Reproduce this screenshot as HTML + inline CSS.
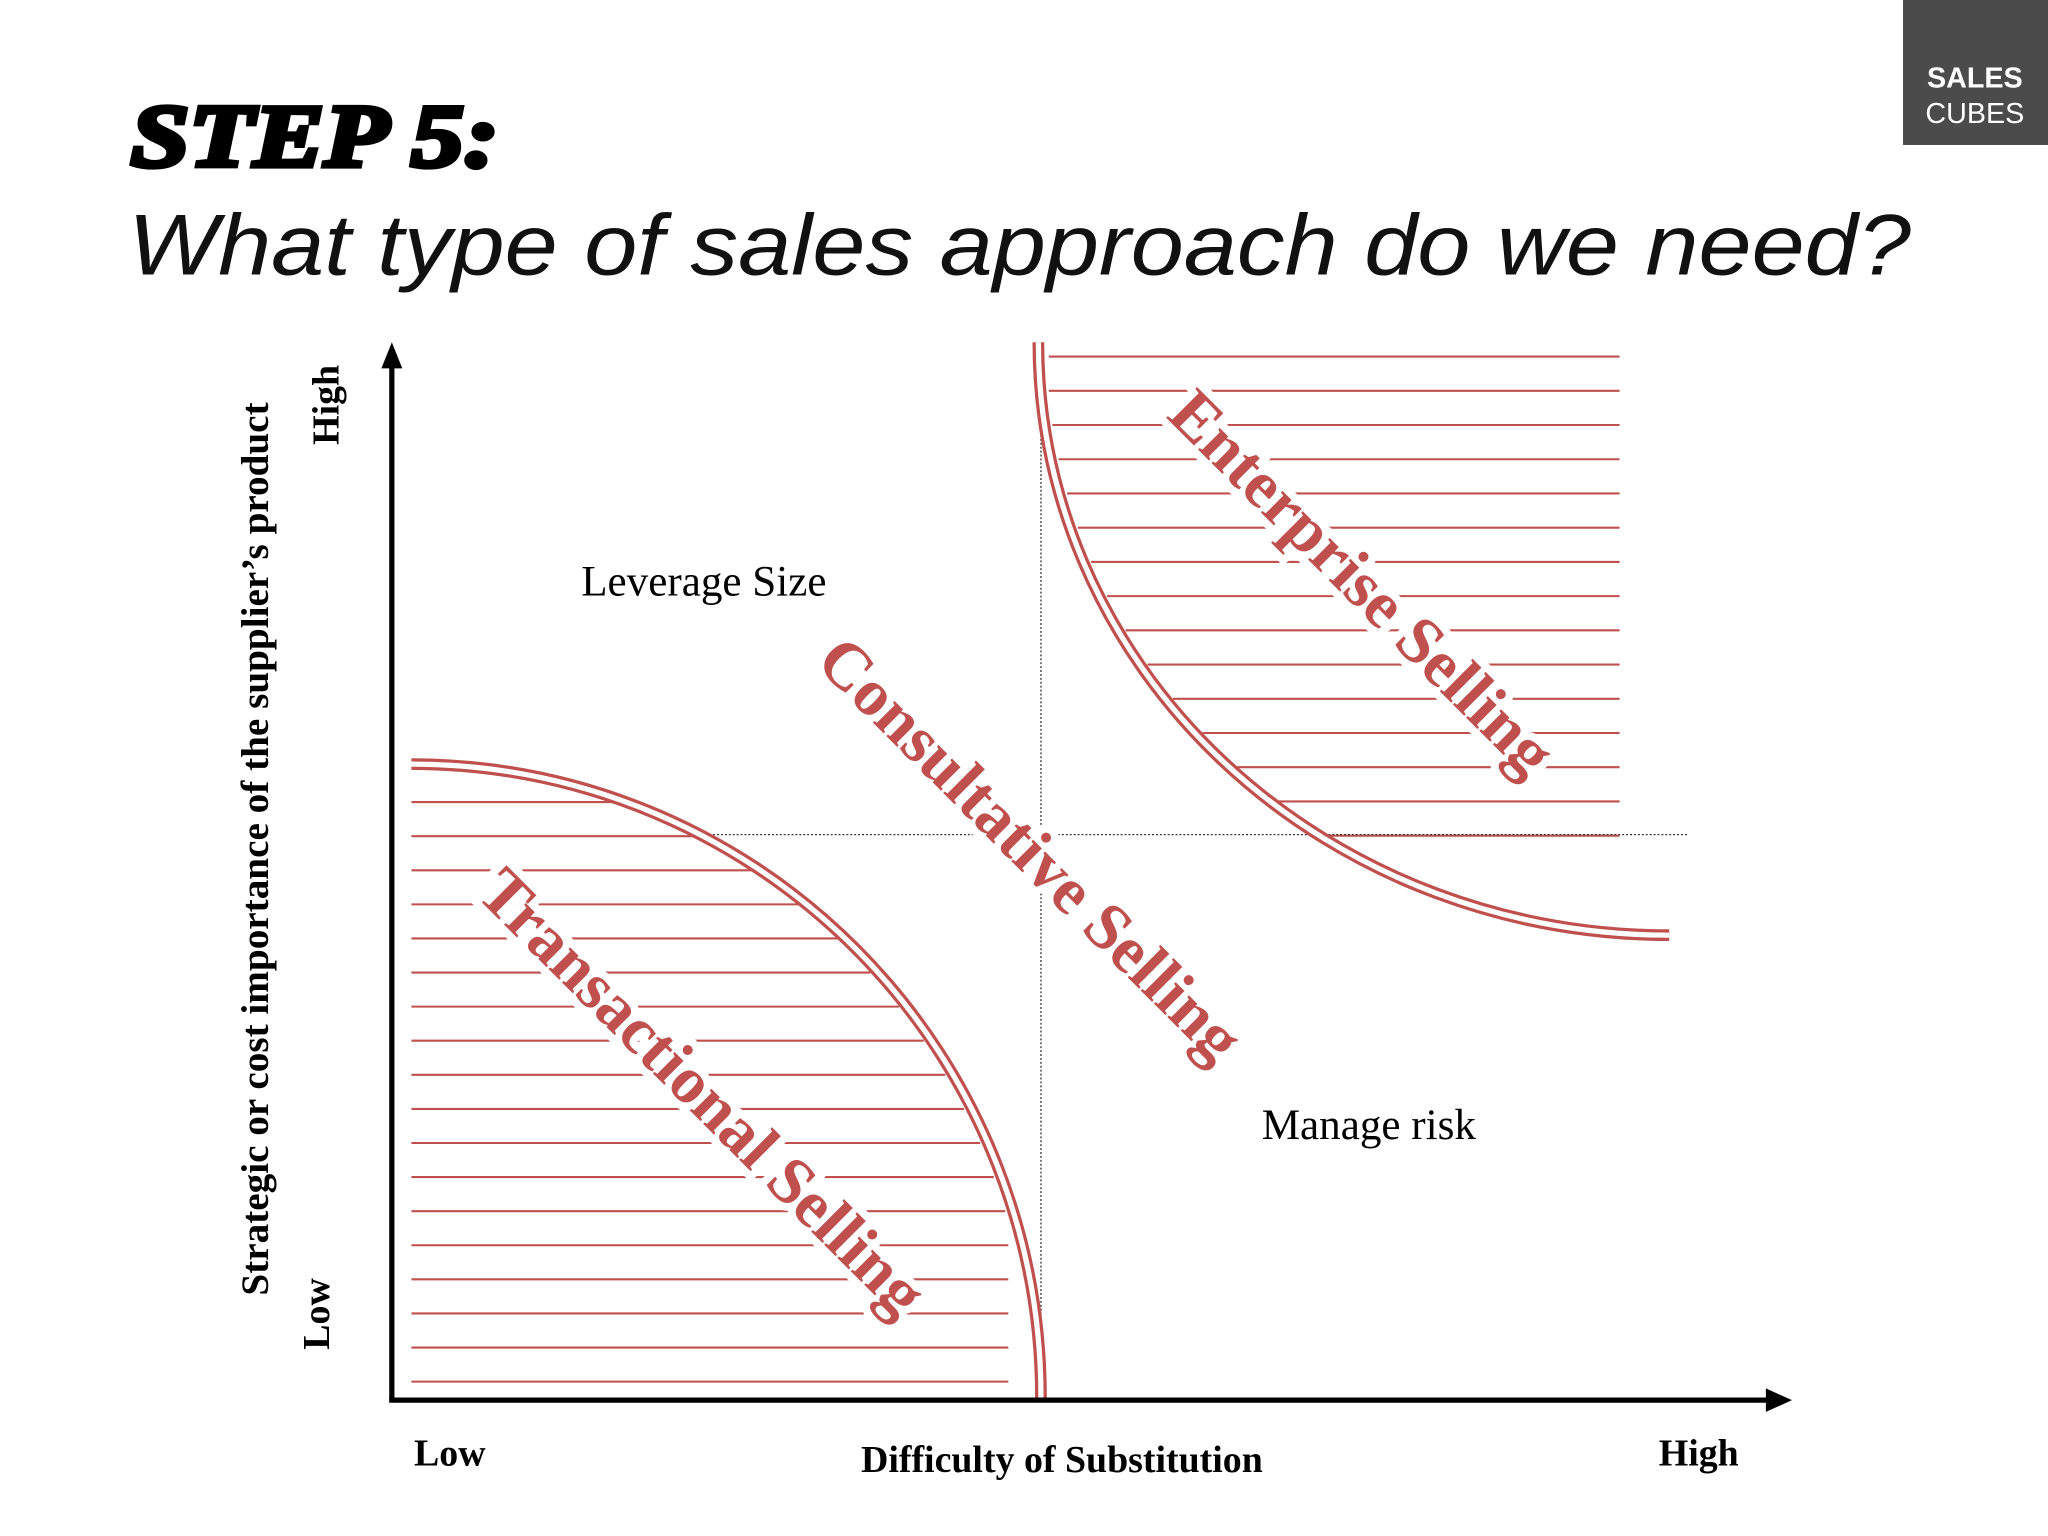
<!DOCTYPE html>
<html><head><meta charset="utf-8"><style>
html,body{margin:0;padding:0;background:#fff;width:2048px;height:1536px;overflow:hidden}
svg{display:block}
</style></head><body>
<svg id="c" width="2048" height="1536" viewBox="0 0 1568 1176" xmlns="http://www.w3.org/2000/svg">
<rect width="1568" height="1176" fill="#fff"/>
<g>
<rect x="1457" y="0" width="111" height="111" fill="#4b4b4b"/>
<text x="1512" y="67" text-anchor="middle" font-family="Liberation Sans, sans-serif" font-weight="bold" font-size="22" fill="#fff">SALES</text>
<text x="1512" y="94" text-anchor="middle" font-family="Liberation Sans, sans-serif" font-size="22" fill="#fff">CUBES</text>
</g>
<text x="100" y="127" font-family="Liberation Serif, serif" font-weight="900" font-style="italic" font-size="68" fill="#000" stroke="#000" stroke-width="4" textLength="282" lengthAdjust="spacingAndGlyphs">STEP 5:</text>
<text x="98" y="210" font-family="Liberation Sans, sans-serif" font-style="italic" font-size="66" fill="#111" textLength="1365" lengthAdjust="spacingAndGlyphs">What type of sales approach do we need?</text>
<g id="hatch" stroke="#c0504d" stroke-width="1.6"></g>
<g stroke="#333" stroke-width="1" stroke-dasharray="1.5,1.5">
<line x1="797" y1="300" x2="797" y2="1070"/>
<line x1="540" y1="639" x2="1293" y2="639"/>
</g>
<g fill="none" stroke="#c0504d">
<path d="M315,585 A482,485 0 0 1 797,1070" stroke-width="9"/>
<path d="M315,585 A482,485 0 0 1 797,1070" stroke-width="4" stroke="#fff"/>
<path d="M795,262 A483,454 0 0 0 1278,716" stroke-width="9"/>
<path d="M795,262 A483,454 0 0 0 1278,716" stroke-width="4" stroke="#fff"/>
</g>
<g stroke="#000" stroke-width="4">
<line x1="300" y1="275" x2="300" y2="1072"/>
<line x1="298" y1="1072" x2="1355" y2="1072"/>
</g>
<polygon points="300,262 292,282 308,282" fill="#000"/>
<polygon points="1372,1072 1352,1063 1352,1081" fill="#000"/>
<g font-family="Liberation Serif, serif" font-weight="bold" fill="#c0504d" font-size="51" stroke="#fff" stroke-width="12" paint-order="stroke" text-anchor="middle">
<text transform="translate(526,848) rotate(45)">Transactional Selling</text>
<text transform="translate(777,662) rotate(45)">Consultative Selling</text>
<text transform="translate(1031,458) rotate(45)">Enterprise Selling</text>
</g>
<g font-family="Liberation Serif, serif" font-size="33" fill="#000">
<text x="445" y="456">Leverage Size</text>
<text x="966" y="872">Manage risk</text>
</g>
<g font-family="Liberation Serif, serif" font-weight="bold" font-size="29" fill="#000">
<text x="317" y="1122">Low</text>
<text x="813" y="1127" text-anchor="middle">Difficulty of Substitution</text>
<text x="1270" y="1122">High</text>
<text transform="translate(205,650) rotate(-90)" text-anchor="middle" font-size="30">Strategic or cost importance of the supplier’s product</text>
<text transform="translate(259,310) rotate(-90)" text-anchor="middle">High</text>
<text transform="translate(252,1006) rotate(-90)" text-anchor="middle">Low</text>
</g>
</svg>
<script>
var ns="http://www.w3.org/2000/svg";
var g=document.getElementById('hatch');
function ln(x1,y,x2){
  var l=document.createElementNS(ns,'line');
  l.setAttribute('x1',x1);l.setAttribute('x2',x2);l.setAttribute('y1',y);l.setAttribute('y2',y);
  
  
  g.appendChild(l);
}
for(var y=588;y<=1058;y+=26.1){
  var t=(1070-y)/485; if(t>1)t=1;
  var xe=315+482*Math.sqrt(1-t*t)-6;
  ln(315,y,Math.min(xe,772));
}
for(var y2=273;y2<=666;y2+=26.2){
  var t2=(y2-262)/454;
  var xs=1278-483*Math.sqrt(1-t2*t2)+6;
  ln(Math.max(xs,803),y2,1240);
}
</script>
</body></html>
